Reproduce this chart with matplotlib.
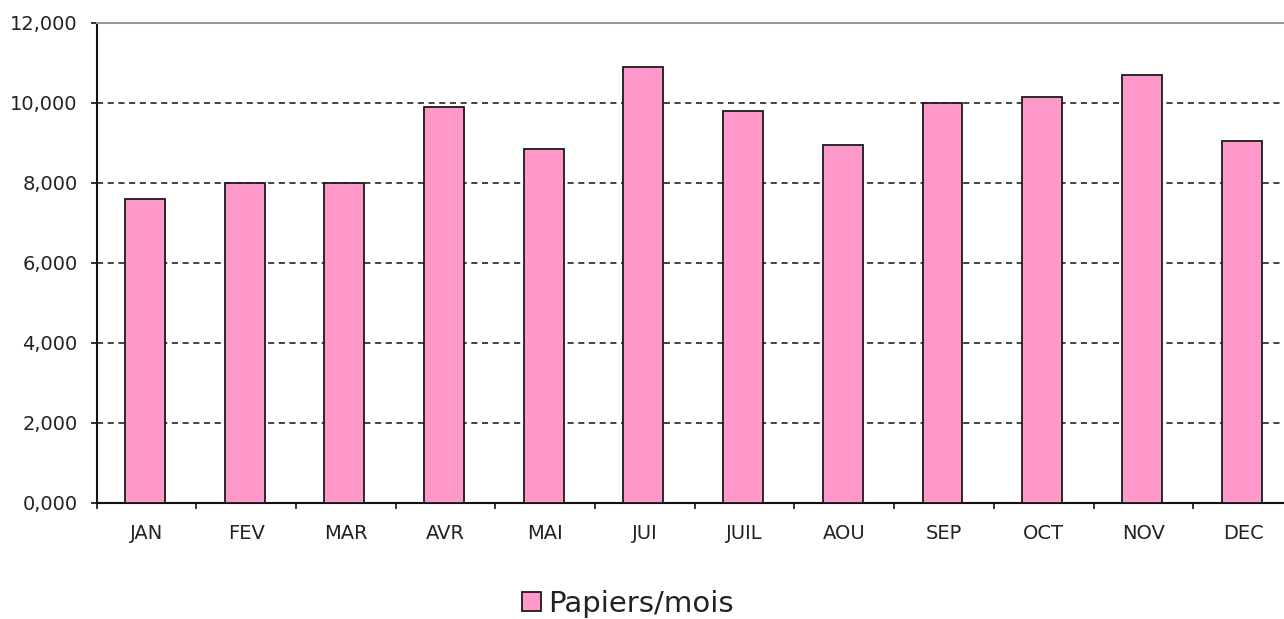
import matplotlib
matplotlib.use("Agg")
import matplotlib.pyplot as plt
import numpy as np

months = ["JAN", "FEV", "MAR", "AVR", "MAI", "JUI", "JUIL", "AOU", "SEP", "OCT", "NOV", "DEC"]
papiers = [7600, 8000, 8000, 9900, 8850, 10900, 9800, 8950, 10000, 10150, 10700, 9050]
yticks = [0, 2000, 4000, 6000, 8000, 10000, 12000]
ytick_labels = ["0,000", "2,000", "4,000", "6,000", "8,000", "10,000", "12,000"]
series_name = "Papiers/mois"

plt.rcParams['font.family'] = ['DejaVu Sans']

W, H = 1284, 619
fig = plt.figure(figsize=(W / 100, H / 100), dpi=100)
left, right = 96.5, 1293
top, bottom = 23, 503
ax = fig.add_axes([left / W, (H - bottom) / H, (right - left) / W, (bottom - top) / H])

x = np.arange(len(months))
bars = ax.bar(x - 0.015, papiers, width=0.4, color="#FF99CC", edgecolor="#1a1a1a", linewidth=1.3,
              label=series_name, zorder=3)

ax.set_xlim(-0.5, len(months) - 0.5)
ax.set_ylim(0, 12000)
ax.set_yticks(yticks)
ax.set_yticklabels(ytick_labels, fontsize=14, color="#222222")
ax.set_xticks(x)
ax.set_xticklabels(months, fontsize=14, color="#222222")
ax.set_xticks(np.arange(len(months) + 1) - 0.5, minor=True)

ax.tick_params(axis='x', which='major', length=0, pad=15)
ax.tick_params(axis='x', which='minor', length=4.5, width=1.2, direction='out', color="#111111")
ax.tick_params(axis='y', length=4.5, width=1.2, direction='out', color="#111111", pad=9)

for yv in yticks[1:-1]:
    ax.axhline(yv, color="#111111", linestyle=(0, (4, 3)), linewidth=1.1, zorder=1)

ax.spines["right"].set_visible(False)
ax.spines["top"].set_color("#999999")
ax.spines["top"].set_linewidth(1.5)
for s in ["left", "bottom"]:
    ax.spines[s].set_color("#111111")
    ax.spines[s].set_linewidth(1.5)

leg = fig.legend(handles=[bars], labels=[series_name], loc="center",
                 bbox_to_anchor=(628 / W, 1 - 604 / H), frameon=False,
                 fontsize=21, handlelength=0.65, handleheight=0.65, handletextpad=0.25)
for t in leg.get_texts():
    t.set_color("#222222")

fig.savefig("out.png", dpi=100)
